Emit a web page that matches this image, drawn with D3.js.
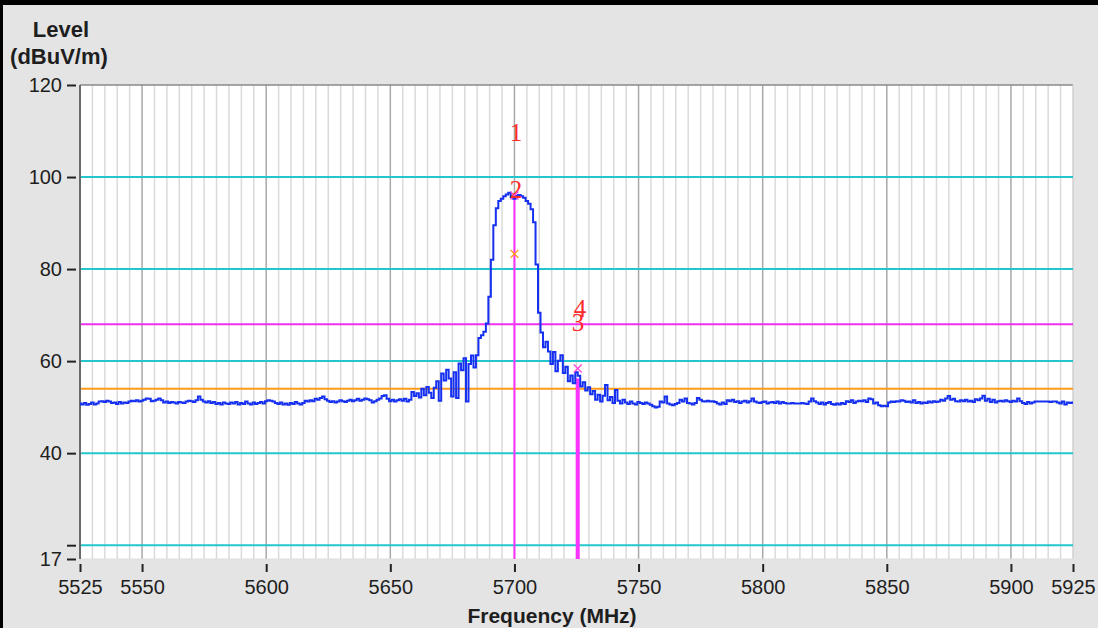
<!DOCTYPE html>
<html lang="en">
<head>
  <meta charset="UTF-8">
  <title>Level vs Frequency</title>
  <script src="https://d3js.org/d3.v7.min.js"></script>
  <style>
    body { margin: 0; background: #e4e4e4; }
    svg { display: block; font-family: "Liberation Sans", Arial, sans-serif; }
    .tick text { fill: #1e1e1e; }
  </style>
</head>
<body>
  <svg id="chart" width="1098" height="628"></svg>
  <script>
    // trace: one reading per MHz from 5525 to 5925
    const startFreq = 5525;
    const stepFreq = 1;
    const level = [
      50.8, 50.6, 50.9, 50.5, 50.7, 51.0, 50.6, 50.8, 51.2, 51.3,
      51.1, 51.4, 51.2, 50.9, 51.0, 50.7, 51.1, 50.8, 51.0, 50.9,
      51.2, 51.4, 51.3, 51.5, 51.2, 51.4, 51.6, 51.9, 51.8, 51.3,
      51.4, 51.6, 51.9, 51.5, 51.0, 51.2, 50.9, 51.1, 51.0, 50.8,
      51.1, 51.0, 50.9, 51.2, 51.4, 51.3, 51.1, 51.5, 52.3, 51.6,
      51.2, 51.0, 51.3, 50.9, 51.1, 50.7, 50.9, 50.6, 51.0, 50.8,
      50.7, 51.0, 50.8, 51.1, 50.6, 50.9, 50.7, 51.2, 50.8, 50.6,
      51.0, 50.7, 50.9, 51.1, 50.8, 51.3, 51.5, 51.4, 51.2, 50.9,
      50.7, 51.0, 50.6, 50.8, 50.5, 50.9, 50.7, 51.1, 50.8, 50.6,
      50.9, 51.4, 51.2, 51.5, 51.3, 51.8, 51.6, 52.0, 52.3, 51.7,
      51.4, 51.1, 51.3, 51.0, 51.2, 51.5, 51.3, 51.1, 51.4, 51.6,
      51.3, 51.5, 51.8, 51.4, 51.6, 51.9, 51.7, 51.5, 51.0, 51.3,
      51.6, 51.9, 52.4, 52.6, 51.8, 51.3, 51.6, 51.2, 51.5, 51.7,
      51.4, 51.8, 51.2, 51.6, 53.3, 52.4, 53.0, 52.1, 54.0, 52.6,
      54.4, 53.1, 52.0, 54.2, 55.6, 51.4, 57.3, 55.8, 58.1, 56.2,
      52.3, 57.6, 52.0, 59.5, 58.0, 60.6, 51.2, 59.4, 61.2, 58.6,
      61.3, 65.0, 65.6, 66.4, 68.2, 74.0, 82.0, 89.5, 93.2, 94.8,
      95.3, 95.8, 96.2, 96.6, 95.6, 95.3, 95.9, 96.1, 95.8, 95.5,
      94.8, 94.2, 93.0, 90.2, 81.0, 70.5, 66.2, 63.0, 64.2, 62.1,
      59.4, 62.0, 57.8, 60.1, 61.3, 57.4, 58.8, 55.6, 56.9, 55.2,
      57.6, 56.8, 54.5, 55.4, 53.6, 54.3, 52.8, 53.5, 51.6, 52.7,
      51.2, 52.5, 54.8, 51.5, 52.2, 50.9, 53.7, 51.4, 50.8, 51.6,
      51.0, 50.7, 51.2, 50.8, 50.6, 51.1, 50.9, 50.7, 51.0, 50.8,
      50.5, 50.2, 49.9, 50.1, 51.2, 51.0, 52.3, 50.8, 50.6, 50.4,
      50.7, 50.9, 51.6, 51.2, 51.9, 50.9, 50.8, 50.6, 50.9, 52.0,
      51.6, 51.3, 51.2, 51.4, 51.2, 51.3, 51.1, 50.8, 50.6, 51.0,
      50.7, 51.5, 51.3, 51.6, 51.1, 51.3, 50.9, 51.2, 51.4, 51.0,
      51.3, 51.9, 51.2, 51.0, 50.9, 51.1, 51.2, 50.8, 51.0, 51.1,
      50.9, 51.2, 50.8, 51.1, 50.9, 50.8, 50.8, 50.9, 50.8, 50.8,
      50.8, 50.9, 50.8, 50.7, 51.2, 51.9, 51.3, 51.0, 50.7, 51.0,
      50.6, 50.9, 51.1, 50.7, 50.5, 50.8, 50.6, 50.9, 50.7, 51.3,
      51.1, 51.5, 50.9, 51.2, 51.4, 51.3, 51.5, 51.1, 51.9, 51.7,
      50.8, 51.0, 50.4, 50.2, 50.3, 50.2, 51.0, 51.2, 51.1, 51.3,
      51.2, 51.5, 51.4, 51.1, 51.2, 51.0, 51.5, 50.9, 51.1, 50.8,
      51.0, 50.9, 51.2, 51.0, 51.3, 51.1, 51.2, 51.6, 51.4, 51.9,
      52.4, 51.6, 51.8, 51.3, 51.2, 51.5, 51.3, 51.6, 51.2, 51.4,
      51.1, 51.7, 51.5, 51.9, 52.5, 51.4, 51.8, 51.1, 51.6, 51.0,
      51.3, 51.4, 51.2, 51.5, 51.3, 51.1, 51.4, 51.2, 51.9, 51.3,
      50.9, 50.7, 51.1, 50.8, 51.0, 51.2, 51.2, 51.2, 51.2, 51.2,
      51.2, 51.1, 51.2, 51.2, 51.0, 50.8, 51.2, 50.6, 51.0, 50.9,
      51.0
    ];

    const xTicks = [5525, 5550, 5600, 5650, 5700, 5750, 5800, 5850, 5900, 5925];
    const yTicks = [17, 20, 40, 60, 80, 100, 120];
    const yTickLabels = ["17", "", "40", "60", "80", "100", "120"];
    const cyanLevels = [20, 40, 60, 80, 100];

    const limitLine = 68;     // magenta
    const avgLine = 54;       // orange

    // markers: freq, level (text baseline)
    const markerText = [
      { label: "1", f: 5700.6, v: 107.8 },
      { label: "2", f: 5700.6, v: 95.4 },
      { label: "4", f: 5726.4, v: 69.6 },
      { label: "3", f: 5725.6, v: 66.6 }
    ];
    const crossPink = [{ f: 5700, v: 96.0 }, { f: 5725.5, v: 58.4 }];
    const crossOrange = [{ f: 5700, v: 83.3 }];
    const vLines = [
      { f: 5700, top: 96.0, w: 2 },
      { f: 5725.5, top: 56.2, w: 4 }
    ];

    const data = level.map((v, i) => ({ f: startFreq + i * stepFreq, v: v }));

    const svg = d3.select("#chart");
    const plotL = 80, plotR = 1073, plotT = 85, plotB = 559;

    const x = d3.scaleLinear().domain([5525, 5925]).range([plotL, plotR]);
    const y = d3.scaleLinear().domain([17, 120]).range([plotB, plotT]);

    // window frame
    svg.append("rect").attr("x", 0).attr("y", 0).attr("width", 1098).attr("height", 5).attr("fill", "#000");
    svg.append("rect").attr("x", 0).attr("y", 0).attr("width", 3).attr("height", 628).attr("fill", "#000");

    // plot background
    svg.append("rect")
       .attr("x", plotL).attr("y", plotT)
       .attr("width", plotR - plotL).attr("height", plotB - plotT)
       .attr("fill", "#fff");

    // minor vertical grid every 5 MHz
    const minor = d3.range(5530, 5925, 5).filter(f => f % 50 !== 0);
    svg.append("g").selectAll("line").data(minor).join("line")
       .attr("x1", d => x(d)).attr("x2", d => x(d))
       .attr("y1", plotT).attr("y2", plotB)
       .attr("stroke", "#dadada").attr("stroke-width", 1.5);

    const major = d3.range(5550, 5925, 50);
    svg.append("g").selectAll("line").data(major).join("line")
       .attr("x1", d => x(d)).attr("x2", d => x(d))
       .attr("y1", plotT).attr("y2", plotB)
       .attr("stroke", "#a8a8a8").attr("stroke-width", 1.5);

    // frame of plot
    svg.append("line").attr("x1", plotL).attr("x2", plotR).attr("y1", plotT).attr("y2", plotT)
       .attr("stroke", "#8a8a8a").attr("stroke-width", 1.5);
    svg.append("line").attr("x1", plotR).attr("x2", plotR).attr("y1", plotT).attr("y2", plotB)
       .attr("stroke", "#d0d0d0").attr("stroke-width", 1.5);
    svg.append("line").attr("x1", plotL).attr("x2", plotR).attr("y1", plotB).attr("y2", plotB)
       .attr("stroke", "#dedede").attr("stroke-width", 1);
    svg.append("line").attr("x1", plotL).attr("x2", plotL).attr("y1", plotT).attr("y2", plotB)
       .attr("stroke", "#6a6a6a").attr("stroke-width", 2);

    // horizontal level lines
    svg.append("g").selectAll("line").data(cyanLevels).join("line")
       .attr("x1", plotL + 1).attr("x2", plotR)
       .attr("y1", d => y(d)).attr("y2", d => y(d))
       .attr("stroke", "#22c6cc").attr("stroke-width", 2);

    svg.append("line").attr("x1", plotL + 1).attr("x2", plotR)
       .attr("y1", y(avgLine)).attr("y2", y(avgLine))
       .attr("stroke", "#ff9a1a").attr("stroke-width", 2);
    svg.append("line").attr("x1", plotL + 1).attr("x2", plotR)
       .attr("y1", y(limitLine)).attr("y2", y(limitLine))
       .attr("stroke", "#f030f0").attr("stroke-width", 2);

    // marker verticals
    svg.append("g").selectAll("line").data(vLines).join("line")
       .attr("x1", d => x(d.f)).attr("x2", d => x(d.f))
       .attr("y1", d => y(d.top)).attr("y2", plotB)
       .attr("stroke", "#ff33ff").attr("stroke-width", d => d.w);

    // trace
    const line = d3.line().x(d => x(d.f)).y(d => y(d.v)).curve(d3.curveStep);
    svg.append("path").datum(data)
       .attr("fill", "none").attr("stroke", "#1530f0").attr("stroke-width", 2)
       .attr("stroke-linejoin", "miter")
       .attr("d", line);

    // cross markers
    function cross(list, color) {
      const g = svg.append("g").attr("stroke", color).attr("stroke-width", 1.3);
      list.forEach(m => {
        const cx = x(m.f), cy = y(m.v), r = 4;
        g.append("line").attr("x1", cx - r).attr("x2", cx + r).attr("y1", cy - r).attr("y2", cy + r);
        g.append("line").attr("x1", cx - r).attr("x2", cx + r).attr("y1", cy + r).attr("y2", cy - r);
      });
    }
    cross(crossPink, "#ff44dd");
    cross(crossOrange, "#ff9a1a");

    svg.append("g").selectAll("text").data(markerText).join("text")
       .attr("x", d => x(d.f)).attr("y", d => y(d.v))
       .attr("text-anchor", "middle")
       .attr("font-family", "'Liberation Serif', 'Times New Roman', serif")
       .attr("font-size", 25)
       .attr("fill", "#ff2a2a")
       .text(d => d.label);

    // axes
    const xAxis = svg.append("g")
       .attr("transform", `translate(0, ${plotB + 5})`)
       .call(d3.axisBottom(x).tickValues(xTicks).tickSize(8).tickPadding(8).tickFormat(d3.format("d")));
    xAxis.select(".domain").remove();
    xAxis.selectAll(".tick line").attr("stroke", "#222").attr("stroke-width", 2);
    xAxis.selectAll(".tick text").attr("font-size", 20);

    const yAxis = svg.append("g")
       .attr("transform", `translate(${plotL - 4}, 0)`)
       .call(d3.axisLeft(y).tickValues(yTicks).tickSize(9).tickPadding(5)
               .tickFormat((d, i) => yTickLabels[i]));
    yAxis.select(".domain").remove();
    yAxis.selectAll(".tick line").attr("stroke", "#222").attr("stroke-width", 2);
    yAxis.selectAll(".tick text").attr("font-size", 20);

    // titles
    svg.append("text").attr("x", 61).attr("y", 37).attr("text-anchor", "middle")
       .attr("font-size", 22).attr("font-weight", "bold").attr("fill", "#1e1e1e").text("Level");
    svg.append("text").attr("x", 59).attr("y", 64).attr("text-anchor", "middle")
       .attr("font-size", 22).attr("font-weight", "bold").attr("fill", "#1e1e1e").text("(dBuV/m)");
    svg.append("text").attr("x", 552).attr("y", 623).attr("text-anchor", "middle")
       .attr("font-size", 21).attr("font-weight", "bold").attr("fill", "#1e1e1e").text("Frequency (MHz)");
  </script>
</body>
</html>
